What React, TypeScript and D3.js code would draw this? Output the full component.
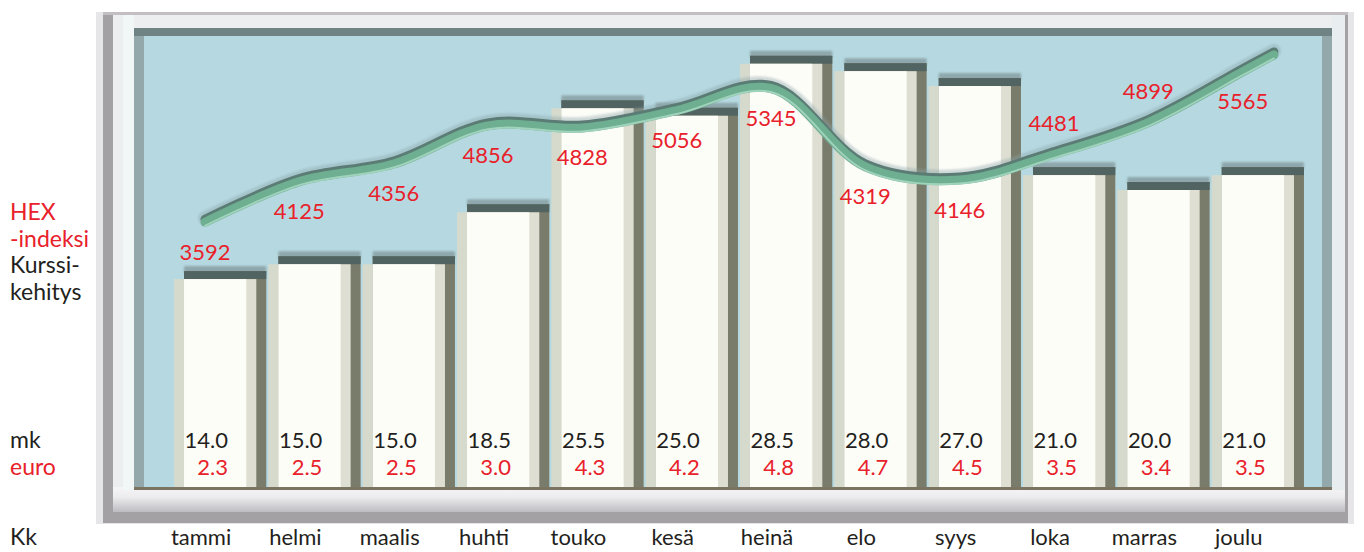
import React from 'react';
import { scaleBand, scaleLinear, line, curveCatmullRom } from 'd3';

const months = ['tammi', 'helmi', 'maalis', 'huhti', 'touko', 'kesä', 'heinä', 'elo', 'syys', 'loka', 'marras', 'joulu'];
const hexIndex = [3592, 4125, 4356, 4856, 4828, 5056, 5345, 4319, 4146, 4481, 4899, 5565];
const priceMk = [14.0, 15.0, 15.0, 18.5, 25.5, 25.0, 28.5, 28.0, 27.0, 21.0, 20.0, 21.0];
const priceEuro = [2.3, 2.5, 2.5, 3.0, 4.3, 4.2, 4.8, 4.7, 4.5, 3.5, 3.4, 3.5];
const hexLabelAbove = ['loka', 'marras'];

const W = 1364;
const H = 552;
const plot = { left: 144, top: 36, right: 1322, bottom: 487 };

const RED = '#e8212b';
const INK = '#231f20';
const FONT = 'Lato, "Open Sans", sans-serif';

const App = () => {
  const x = scaleBand<string>()
    .domain(months)
    .range([173, 1305])
    .paddingInner(0.234)
    .paddingOuter(0.117);
  const bw = x.bandwidth();

  const yBar = scaleLinear().domain([0, 30]).range([plot.bottom, plot.bottom - 30 * 14.85]);
  const yHex = scaleLinear().domain([3000, 6000]).range([267, 38]);

  const pts: [number, number][] = months.map((m, i) => [(x(m) as number) + 21, yHex(hexIndex[i])]);
  // stretch the tail a bit past the last point, like the original
  const n = pts.length;
  const [lx, ly] = pts[n - 1];
  const [px, py] = pts[n - 2];
  const ext: [number, number] = [lx + (lx - px) * 0.33, ly + (ly - py) * 0.33];
  const linePath = line().curve(curveCatmullRom.alpha(0.5))([...pts, ext]) || '';

  return (
    <svg
      width={W}
      height={H}
      style={{ position: 'absolute', left: 0, top: 0, background: '#fff' }}
      fontFamily={FONT}
    >
      <defs>
        <linearGradient id="bottomBand" x1="0" y1="0" x2="0" y2="1">
          <stop offset="0" stopColor="#f6f5f6" />
          <stop offset="0.4" stopColor="#ecebee" />
          <stop offset="1" stopColor="#bdbcc0" />
        </linearGradient>
        <filter id="soft" x="-5%" y="-20%" width="110%" height="140%">
          <feGaussianBlur stdDeviation="1.2" />
        </filter>
      </defs>

      {/* frame */}
      <rect x={96} y={12} width={1258} height={512} fill="#e6e5e8" />
      <rect x={103} y={12} width={1245} height={511} fill="#a4a1a5" />
      <rect x={103} y={12} width={1245} height={3} fill="#c2bec2" />
      <rect x={113} y={15} width={1232} height={497} fill="#eceef0" />
      <rect x={113} y={487} width={1232} height={25} fill="url(#bottomBand)" />
      <rect x={123} y={15} width={11} height={475} fill="#f1f7f7" />
      <rect x={1332} y={15} width={13} height={475} fill="#e8eef0" />
      <rect x={134} y={28} width={1198} height={462} fill="#93a8aa" />
      <rect x={134} y={28} width={1198} height={8} fill="#6f8284" />
      <rect x={plot.left} y={plot.top} width={plot.right - plot.left} height={plot.bottom - plot.top} fill="#b6d9e1" />

      {/* bars */}
      {months.map((m, i) => {
        const bx = x(m) as number;
        const top = yBar(priceMk[i]);
        return (
          <g key={m}>
            <rect x={bx} y={top - 13} width={bw + 10} height={7} fill="#8ea7ac" filter="url(#soft)" />
            <rect x={bx - 10} y={top} width={10} height={plot.bottom - top} fill="#d5dacd" />
            <rect x={bx} y={top - 8} width={bw + 10} height={plot.bottom - top + 8} fill="#7a7c6b" />
            <rect x={bx} y={top - 8} width={bw + 10} height={8} fill="#526462" />
            <rect x={bx} y={top} width={bw} height={plot.bottom - top} fill="#dedfd2" />
            <rect x={bx} y={top} width={bw - 10} height={plot.bottom - top} fill="#fdfdf8" />
          </g>
        );
      })}

      <rect x={134} y={487} width={1198} height={3} fill="#7b7462" />

      {/* HEX index line */}
      <g fill="none" strokeLinecap="round" strokeLinejoin="round">
        <path d={linePath} stroke="#8aa3a8" strokeWidth={14} opacity={0.4} transform="translate(0,-3.5)" filter="url(#soft)" />
        <path d={linePath} stroke="#5b7c74" strokeWidth={9} transform="translate(0,-2.5)" />
        <path d={linePath} stroke="#6eae91" strokeWidth={9} transform="translate(0,0.5)" />
        <path d={linePath} stroke="#a9d9c3" strokeWidth={2} opacity={0.85} transform="translate(0,4)" />
      </g>

      {/* HEX labels */}
      {months.map((m, i) => {
        const [cx, cy] = pts[i];
        const above = hexLabelAbove.includes(m);
        return (
          <text key={m} x={cx} y={above ? cy - 23 : cy + 38} textAnchor="middle" fontSize={22} fill={RED}>
            {hexIndex[i]}
          </text>
        );
      })}

      {/* price values */}
      {months.map((m, i) => {
        const bx = x(m) as number;
        return (
          <g key={m} fontSize={22} textAnchor="end">
            <text x={bx + 44} y={448} fill={INK}>{priceMk[i].toFixed(1)}</text>
            <text x={bx + 44} y={475} fill={RED}>{priceEuro[i].toFixed(1)}</text>
          </g>
        );
      })}

      {/* month labels */}
      {months.map((m) => (
        <text key={m} x={(x(m) as number) + 17} y={545} textAnchor="middle" fontSize={22} fill={INK}>
          {m}
        </text>
      ))}

      {/* left side titles */}
      <g fontSize={23}>
        <text x={10} y={220} fill={RED}>HEX</text>
        <text x={10} y={247} fill={RED}>-indeksi</text>
        <text x={10} y={273} fill={INK}>Kurssi-</text>
        <text x={10} y={300} fill={INK}>kehitys</text>
        <text x={10} y={448} fill={INK}>mk</text>
        <text x={10} y={475} fill={RED}>euro</text>
        <text x={10} y={545} fill={INK}>Kk</text>
      </g>
    </svg>
  );
};

export default App;
